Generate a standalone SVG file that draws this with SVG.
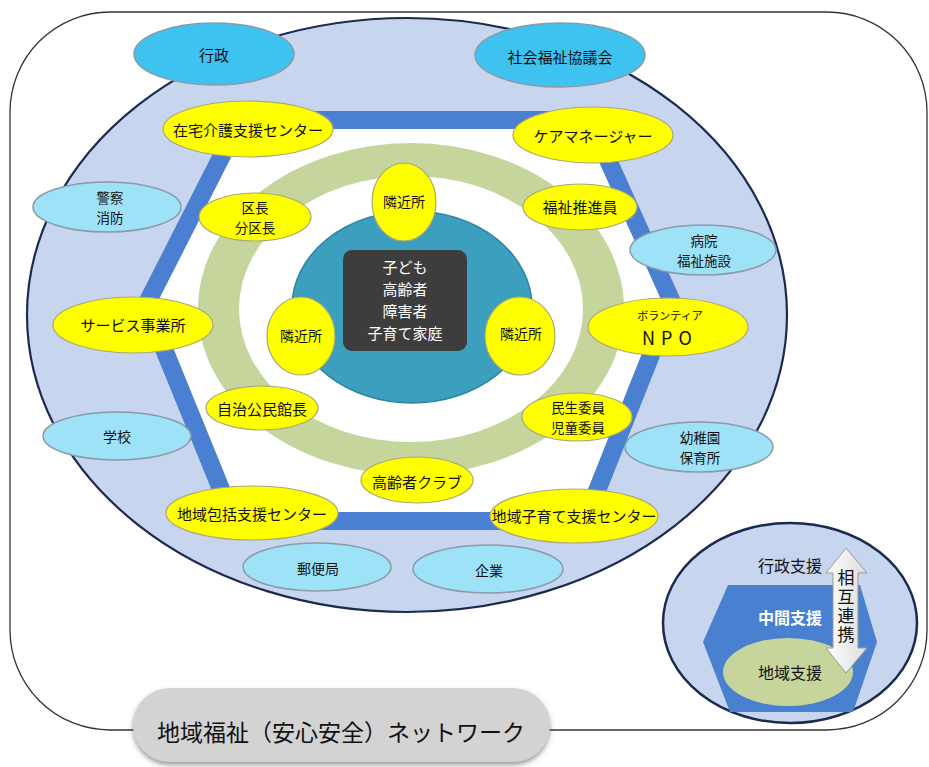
<svg xmlns="http://www.w3.org/2000/svg" width="929" height="767" viewBox="0 0 929 767">
<defs>
<style>
text{font-family:"Noto Sans CJK JP","Noto Sans",sans-serif;fill:#111;text-anchor:middle;dominant-baseline:central;}
.y{fill:#ffff00;stroke:#a8a878;stroke-width:1.2;}
.c1{fill:#3ec2ef;stroke:#8a9aa8;stroke-width:1.5;}
.c2{fill:#9ee2f8;stroke:#8a9aa8;stroke-width:1.5;}
.t15{font-size:15px;}
.t14{font-size:14px;}
.t2{font-size:13.5px;}
</style>
<filter id="sh" x="-10%" y="-30%" width="120%" height="170%">
<feDropShadow dx="0" dy="3" stdDeviation="2.5" flood-color="#555" flood-opacity="0.6"/>
</filter>
<linearGradient id="ag" x1="0" y1="0" x2="1" y2="0">
<stop offset="0" stop-color="#ffffff"/><stop offset="1" stop-color="#dcdcdc"/>
</linearGradient>
</defs>
<rect width="929" height="767" fill="#fff"/>
<g id="frame">
<rect x="10" y="12" width="917" height="718" rx="100" ry="100" fill="#fff" stroke="#333" stroke-width="1.3"/>
</g>
<g id="background">
<ellipse cx="407" cy="315" rx="380" ry="297" fill="#c7d6ee" stroke="#1b2a4e" stroke-width="2.2"/>
<polygon points="240,120 590,120 672,302 585,521 234,521 146,305" fill="#fff" stroke="#4a7fd2" stroke-width="18" stroke-linejoin="miter"/>
<ellipse cx="411" cy="309" rx="213" ry="166" fill="#c5d59c"/>
<ellipse cx="411" cy="309" rx="172" ry="133" fill="#fff"/>
<ellipse cx="412" cy="307" rx="120" ry="96" fill="#3b9fbd" stroke="#2f86a2" stroke-width="1.5"/>
</g>
<g id="center">
<rect x="343" y="250" width="124" height="101" rx="9" fill="#3d3d3d"/>
<text x="405" y="266" style="font-size:15px;fill:#fff;"><tspan x="405" y="266">子ども</tspan><tspan x="405" y="288">高齢者</tspan><tspan x="405" y="310">障害者</tspan><tspan x="405" y="332">子育て家庭</tspan></text>
</g>
<g id="n-gyosei"><ellipse class="c1" cx="214" cy="54" rx="80" ry="31"/><text class="t15" x="214" y="54">行政</text></g>
<g id="n-shakyo"><ellipse class="c1" cx="560" cy="55" rx="85" ry="32"/><text class="t15" x="560" y="56">社会福祉協議会</text></g>
<g id="n-keisatsu"><ellipse class="c2" cx="107" cy="207" rx="74" ry="25"/><text class="t2" x="110" y="197"><tspan x="110" y="197">警察</tspan><tspan x="110" y="217">消防</tspan></text></g>
<g id="n-byoin"><ellipse class="c2" cx="703" cy="250" rx="73" ry="25"/><text class="t2" x="704" y="240"><tspan x="704" y="240">病院</tspan><tspan x="704" y="260">福祉施設</tspan></text></g>
<g id="n-gakko"><ellipse class="c2" cx="117" cy="436" rx="74" ry="24"/><text class="t14" x="117" y="436">学校</text></g>
<g id="n-yochien"><ellipse class="c2" cx="699" cy="447" rx="74" ry="25"/><text class="t2" x="700" y="437"><tspan x="700" y="437">幼稚園</tspan><tspan x="700" y="457">保育所</tspan></text></g>
<g id="n-yubin"><ellipse class="c2" cx="317" cy="567" rx="74" ry="24"/><text class="t14" x="318" y="568">郵便局</text></g>
<g id="n-kigyo"><ellipse class="c2" cx="488" cy="569" rx="75" ry="24"/><text class="t14" x="489" y="570">企業</text></g>
<g id="n-zaitaku"><ellipse class="y" cx="248" cy="129" rx="85" ry="28"/><text class="t15" x="248" y="129">在宅介護支援センター</text></g>
<g id="n-caremanager"><ellipse class="y" cx="593" cy="135" rx="80" ry="28"/><text class="t15" x="593" y="135">ケアマネージャー</text></g>
<g id="n-rinkinjo-top"><ellipse class="y" cx="404" cy="202" rx="32" ry="39"/><text class="t14" x="404" y="201">隣近所</text></g>
<g id="n-kucho"><ellipse class="y" cx="255" cy="217" rx="56" ry="24"/><text class="t2" x="255" y="207"><tspan x="255" y="207">区長</tspan><tspan x="255" y="227">分区長</tspan></text></g>
<g id="n-fukushi"><ellipse class="y" cx="580" cy="207" rx="57" ry="23"/><text class="t15" x="580" y="206">福祉推進員</text></g>
<g id="n-service"><ellipse class="y" cx="133" cy="325" rx="80" ry="28"/><text class="t15" x="133" y="324">サービス事業所</text></g>
<g id="n-rinkinjo-left"><ellipse class="y" cx="301" cy="336" rx="34" ry="39"/><text class="t14" x="301" y="335">隣近所</text></g>
<g id="n-rinkinjo-right"><ellipse class="y" cx="520" cy="336" rx="35" ry="39"/><text class="t14" x="521" y="333">隣近所</text></g>
<g id="n-npo"><ellipse class="y" cx="668" cy="327" rx="80" ry="29"/><text x="670" y="315" style="font-size:11px;"><tspan x="670" y="315">ボランティア</tspan><tspan x="670" y="337" style="font-size:18px;letter-spacing:6px;">NPO</tspan></text></g>
<g id="n-kominkan"><ellipse class="y" cx="262" cy="408" rx="56" ry="22"/><text class="t15" x="262" y="408">自治公民館長</text></g>
<g id="n-minsei"><ellipse class="y" cx="577" cy="417" rx="55" ry="24"/><text class="t2" x="578" y="407"><tspan x="578" y="407">民生委員</tspan><tspan x="578" y="427">児童委員</tspan></text></g>
<g id="n-koreisha"><ellipse class="y" cx="417" cy="480" rx="56" ry="23"/><text class="t15" x="417" y="481">高齢者クラブ</text></g>
<g id="n-hokatsu"><ellipse class="y" cx="252" cy="513" rx="86" ry="27"/><text class="t15" x="252" y="513">地域包括支援センター</text></g>
<g id="n-kosodate"><ellipse class="y" cx="574" cy="516" rx="84" ry="27"/><text class="t15" x="574" y="515">地域子育て支援センター</text></g>
<g id="legend">
<ellipse cx="790" cy="623" rx="127" ry="100" fill="#c7d6ee" stroke="#1b2a4e" stroke-width="2.5"/>
<polygon points="728,585 860,585 877,642 853,712 730,712 703,642" fill="#4a80d0"/>
<ellipse cx="788" cy="672" rx="65" ry="34" fill="#c5d59c"/>
<text x="790" y="565" style="font-size:16px;">行政支援</text>
<text x="790" y="617" style="font-size:16px;fill:#fff;font-weight:bold;">中間支援</text>
<text x="790" y="672" style="font-size:16px;">地域支援</text>
</g>
<g id="connectors">
<polygon points="846,548 867,573 858,573 858,648 867,648 846,673 826,648 833,648 833,573 826,573" fill="url(#ag)" stroke="#999" stroke-width="1"/>
<text x="846" y="607" style="font-size:17px;writing-mode:vertical-rl;letter-spacing:2px;dominant-baseline:central;">相互連携</text>
</g>
<g id="title">
<rect x="133" y="688" width="417" height="74" rx="37" ry="37" fill="#d3d3d3" filter="url(#sh)"/>
<text x="341" y="731" style="font-size:23px;">地域福祉（安心安全）ネットワーク</text>
</g>
</svg>
